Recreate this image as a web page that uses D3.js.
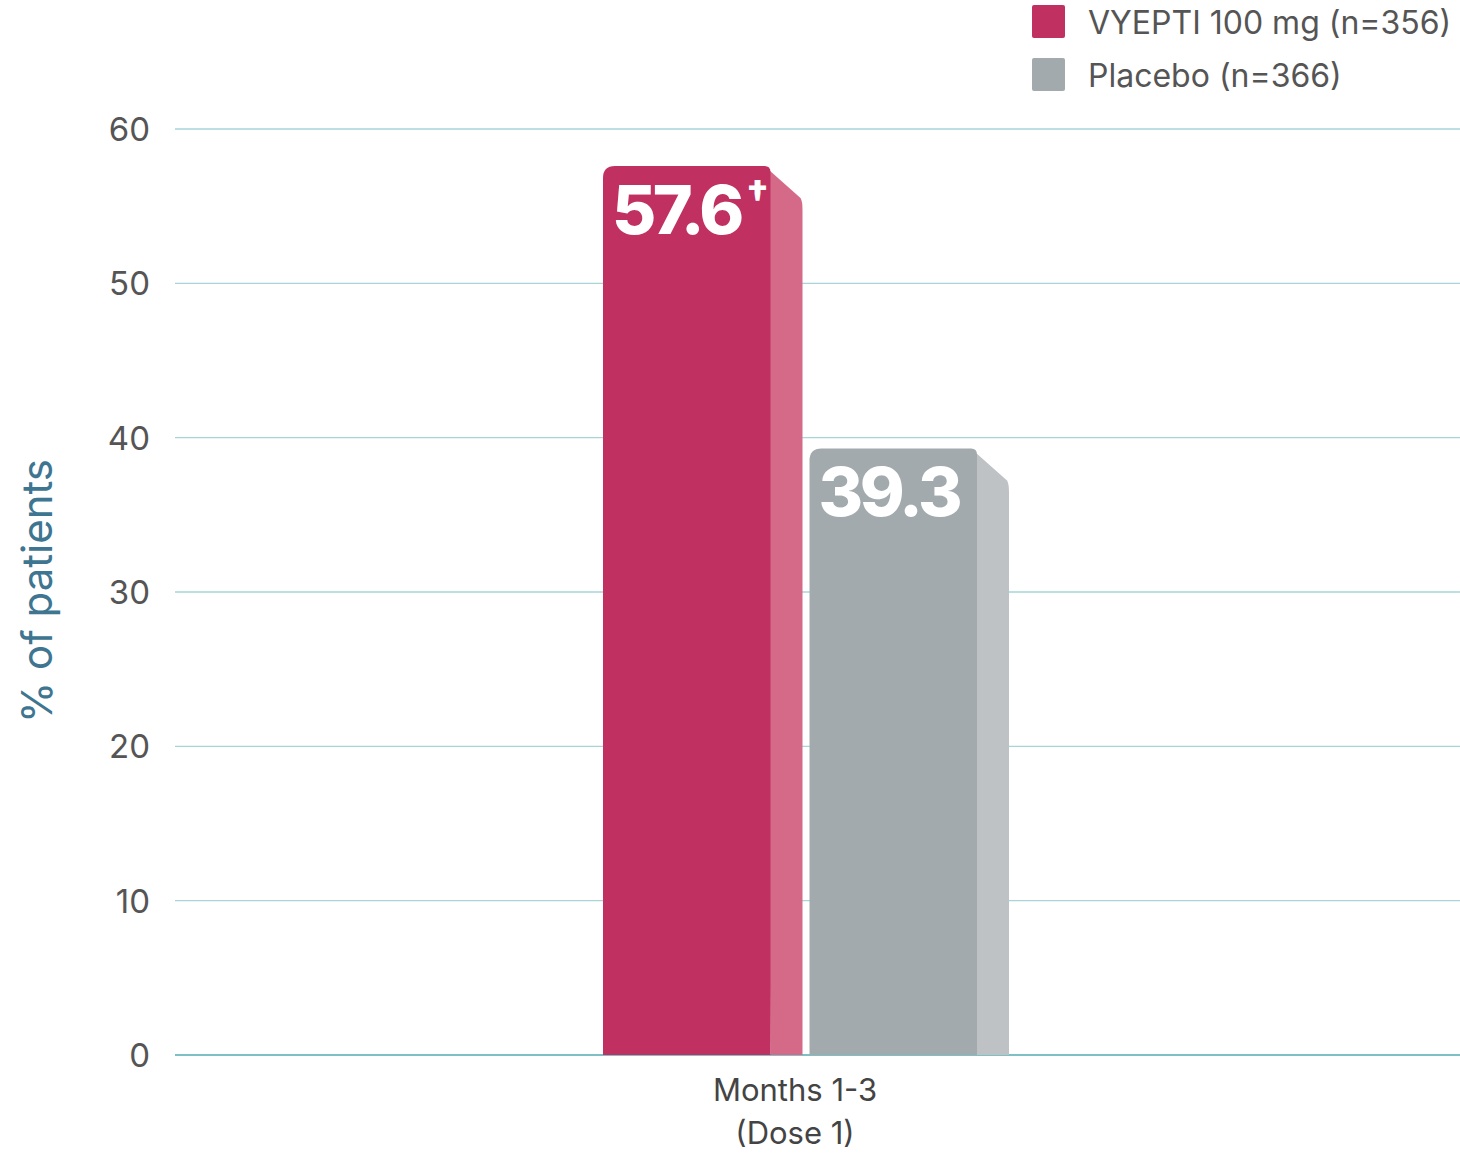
<!DOCTYPE html>
<html>
<head>
<meta charset="utf-8">
<script src="https://cdn.jsdelivr.net/npm/d3@7"></script>
<style>
  body { margin: 0; background: #fff; }
  text { font-family: Inter, "Open Sans", sans-serif; }
</style>
</head>
<body>
<div id="chart"></div>
<script>
// data
const categories = ['Months 1-3|(Dose 1)'];
const series = ['VYEPTI 100 mg (n=356)', 'Placebo (n=366)'];
const values = [57.6, 39.3];
const valueLabels = ['57.6', '39.3'];
const valueMarks = ['†', ''];
const yTicks = [0, 10, 20, 30, 40, 50, 60];

const frontColors = ['#c03060', '#a3aaad'];
const sideColors = ['#d46a88', '#bec2c5'];

let width = 1460;
let height = 1161;

let svg = d3.select('#chart')
	.append('svg')
	.attr('width', width)
	.attr('height', height);

let y = d3.scaleLinear()
	.domain([0, 60])
	.range([1055, 129]);

let x = d3.scaleBand()
	.domain(categories)
	.range([175, 1437]);

// each series slot = front face + side face
let xs = d3.scaleBand()
	.domain(series)
	.range([603, 1009])
	.paddingInner(0.034);

let sideW = 32;
let sideDrop = 36;

// gridlines
svg.append('g')
	.selectAll('line')
	.data(yTicks)
	.enter()
	.append('line')
	.attr('x1', 175)
	.attr('x2', 1460)
	.attr('y1', d => y(d))
	.attr('y2', d => y(d))
	.attr('stroke', d => d === 0 ? '#7fbfc6' : '#a9d4d8')
	.attr('stroke-width', d => d === 0 ? 2 : 1.3);

// tick labels
svg.append('g')
	.selectAll('text')
	.data(yTicks)
	.enter()
	.append('text')
	.attr('x', 150)
	.attr('y', d => y(d))
	.attr('dy', '0.36em')
	.attr('text-anchor', 'end')
	.attr('font-size', 33)
	.attr('fill', '#555')
	.text(d => d);

// y axis title
svg.append('text')
	.attr('transform', 'translate(52,' + 591 + ') rotate(-90)')
	.attr('text-anchor', 'middle')
	.attr('font-size', 42)
	.attr('fill', '#3e7590')
	.text('% of patients');

// bars
let bars = svg.append('g')
	.selectAll('g')
	.data(series)
	.enter()
	.append('g');

bars.append('path')
	.attr('d', function(d, i){
		let x0 = xs(d) + xs.bandwidth() - sideW;
		let x1 = xs(d) + xs.bandwidth();
		let top = y(values[i]);
		let r = 8;
		return 'M' + (x0 - 6) + ',' + top
			+ ' L' + (x1 - 2) + ',' + (top + sideDrop - 4)
			+ ' Q' + x1 + ',' + (top + sideDrop - 1) + ' ' + x1 + ',' + (top + sideDrop + r)
			+ ' L' + x1 + ',' + y(0)
			+ ' L' + x0 + ',' + y(0) + ' Z';
	})
	.attr('fill', (d, i) => sideColors[i]);

bars.append('path')
	.attr('d', function(d, i){
		let x0 = xs(d);
		let x1 = xs(d) + xs.bandwidth() - sideW;
		let top = y(values[i]);
		let r = 12;
		return 'M' + x0 + ',' + y(0)
			+ ' L' + x0 + ',' + (top + r)
			+ ' Q' + x0 + ',' + top + ' ' + (x0 + r) + ',' + top
			+ ' L' + (x1 - 6) + ',' + top
			+ ' Q' + x1 + ',' + top + ' ' + x1 + ',' + (top + 6)
			+ ' L' + x1 + ',' + y(0) + ' Z';
	})
	.attr('fill', (d, i) => frontColors[i]);

let vt = bars.append('text')
	.attr('x', d => xs(d) + 9)
	.attr('y', (d, i) => y(values[i]) + 68)
	.attr('font-size', 68)
	.attr('font-weight', 800)
	.attr('letter-spacing', -3.5)
	.attr('fill', '#fff');

vt.append('tspan')
	.text((d, i) => valueLabels[i]);

vt.append('tspan')
	.attr('font-size', 38)
	.attr('dy', -26)
	.attr('dx', 5)
	.attr('letter-spacing', 0)
	.text((d, i) => valueMarks[i]);

// category label
let catX = x(categories[0]) + x.bandwidth() / 2 - 11;
let cat = svg.append('text')
	.attr('x', catX)
	.attr('y', 1101)
	.attr('text-anchor', 'middle')
	.attr('font-size', 31)
	.attr('fill', '#444');

cat.selectAll('tspan')
	.data(categories[0].split('|'))
	.enter()
	.append('tspan')
	.attr('x', catX)
	.attr('dy', (d, i) => i === 0 ? 0 : 43)
	.text(d => d);

// legend
let legend = svg.append('g')
	.selectAll('g')
	.data(series)
	.enter()
	.append('g')
	.attr('transform', (d, i) => 'translate(1032,' + (5 + i * 53) + ')');

legend.append('rect')
	.attr('width', 33)
	.attr('height', 33)
	.attr('rx', 2)
	.attr('fill', (d, i) => frontColors[i]);

legend.append('text')
	.attr('x', 56)
	.attr('y', 17)
	.attr('dy', '0.36em')
	.attr('font-size', 32)
	.attr('fill', '#555')
	.text(d => d);
</script>
</body>
</html>
